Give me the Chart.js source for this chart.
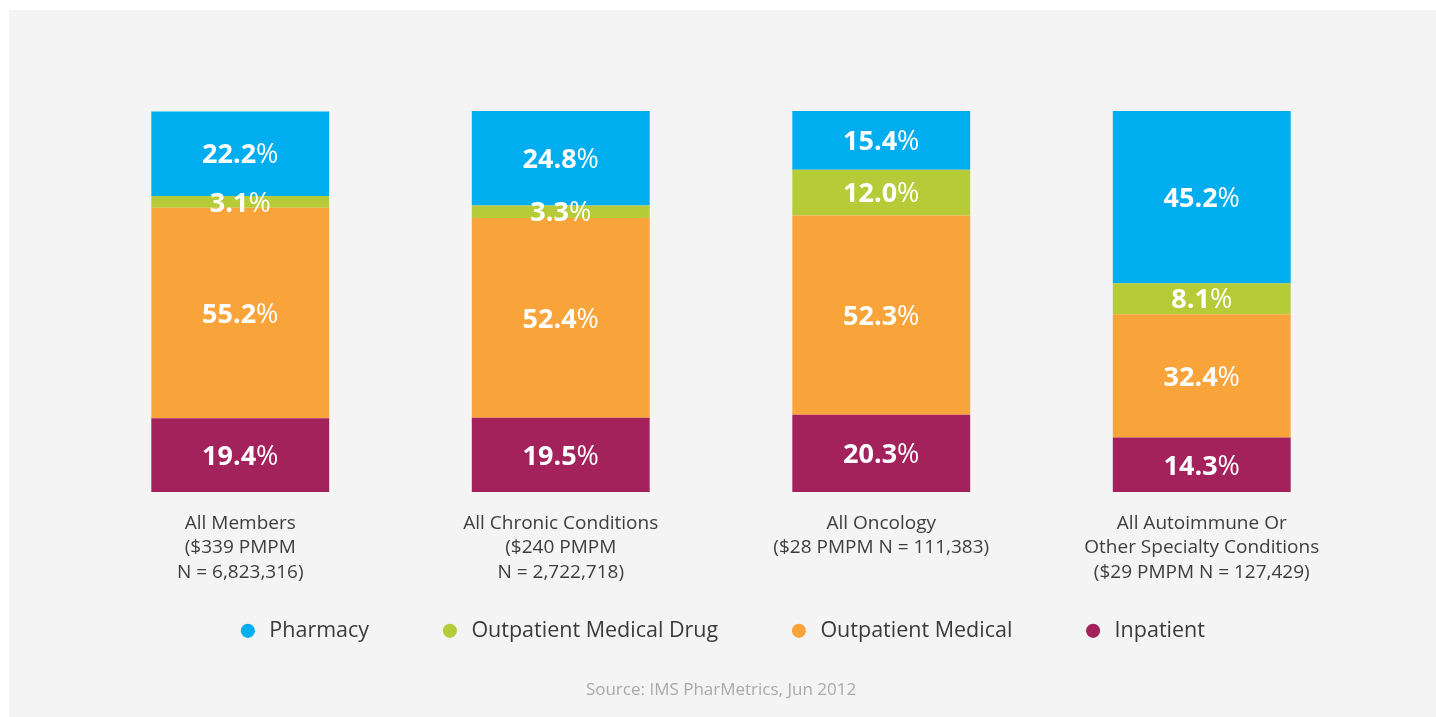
<!DOCTYPE html>
<html>
<head>
<meta charset="utf-8">
<script src="https://cdn.jsdelivr.net/npm/chart.js@4/dist/chart.umd.min.js"></script>
<style>
  html, body { margin: 0; padding: 0; background: #ffffff; }
  #wrap { position: absolute; left: 0; top: 0; width: 1436px; height: 717px; }
</style>
</head>
<body>
<div id="wrap"><canvas id="c" width="1436" height="717"></canvas></div>
<script>
const categories = [
  ["All Members", "($339 PMPM", "N = 6,823,316)"],
  ["All Chronic Conditions", "($240 PMPM", "N = 2,722,718)"],
  ["All Oncology", "($28 PMPM N = 111,383)"],
  ["All Autoimmune Or", "Other Specialty Conditions", "($29 PMPM N = 127,429)"]
];
const pharmacy = [22.2, 24.8, 15.4, 45.2];
const outpatientMedicalDrug = [3.1, 3.3, 12.0, 8.1];
const outpatientMedical = [55.2, 52.4, 52.3, 32.4];
const inpatient = [19.4, 19.5, 20.3, 14.3];
const seriesNames = ["Pharmacy", "Outpatient Medical Drug", "Outpatient Medical", "Inpatient"];
const sourceText = "Source: IMS PharMetrics, Jun 2012";

const FONT = "'Open Sans', 'Noto Sans', sans-serif";

const panelBg = {
  id: 'panelBg',
  beforeDraw(chart) {
    const ctx = chart.ctx;
    ctx.save();
    ctx.fillStyle = '#ffffff';
    ctx.fillRect(0, 0, chart.width, chart.height);
    ctx.fillStyle = '#f5f4f5';
    ctx.fillRect(9, 10, chart.width - 9, chart.height - 10);
    ctx.restore();
  }
};

// let the category labels run past the (deliberately short) axis box into the legend's empty top padding
const tickLabelRoom = {
  id: 'tickLabelRoom',
  afterLayout(chart) {
    const x = chart.scales.x;
    x.bottom = x.top + 110;
  }
};

const barLabels = {
  id: 'barLabels',
  afterDatasetsDraw(chart) {
    const ctx = chart.ctx;
    ctx.save();
    ctx.textBaseline = 'middle';
    chart.data.datasets.forEach((ds, di) => {
      const meta = chart.getDatasetMeta(di);
      meta.data.forEach((bar, i) => {
        const v = ds.data[i];
        const p = bar.getProps(['x', 'y', 'base'], true);
        const cy = (p.y + p.base) / 2 + 2;
        const num = v.toFixed(1);
        ctx.font = "bold 27px " + FONT;
        const w1 = ctx.measureText(num).width;
        ctx.font = "27px " + FONT;
        const w2 = ctx.measureText('%').width;
        const x0 = p.x - (w1 + w2) / 2;
        ctx.fillStyle = '#ffffff';
        ctx.textAlign = 'left';
        ctx.font = "bold 27px " + FONT;
        ctx.fillText(num, x0, cy);
        ctx.font = "27px " + FONT;
        ctx.fillText('%', x0 + w1, cy);
      });
    });
    ctx.restore();
  }
};

new Chart(document.getElementById('c'), {
  type: 'bar',
  data: {
    labels: categories,
    datasets: [
      { label: seriesNames[3], data: inpatient, backgroundColor: '#a3225c' },
      { label: seriesNames[2], data: outpatientMedical, backgroundColor: '#f9a33b' },
      { label: seriesNames[1], data: outpatientMedicalDrug, backgroundColor: '#b5cc38' },
      { label: seriesNames[0], data: pharmacy, backgroundColor: '#00aeef' }
    ]
  },
  options: {
    responsive: false,
    animation: false,
    devicePixelRatio: 1,
    layout: { padding: { left: 80, right: 74, top: 111, bottom: 4 } },
    datasets: { bar: { barPercentage: 1, categoryPercentage: 0.555, borderWidth: 0 } },
    scales: {
      x: {
        stacked: true,
        grid: { display: false, drawTicks: false },
        border: { display: false },
        afterFit(scale) { scale.height = 58; },
        ticks: {
          color: '#3d3d3d',
          padding: 19,
          maxRotation: 0,
          autoSkip: false,
          font: { family: FONT, size: 19, lineHeight: '24.5px' }
        }
      },
      y: {
        stacked: true,
        display: false,
        min: 0,
        max: 100
      }
    },
    plugins: {
      legend: {
        position: 'bottom',
        reverse: true,
        labels: {
          usePointStyle: true,
          pointStyle: 'circle',
          boxWidth: 24,
          boxHeight: 10,
          padding: 70,
          color: '#3a3a3a',
          font: { family: FONT, size: 21.5 }
        }
      },
      title: {
        display: true,
        position: 'bottom',
        text: sourceText,
        color: '#a9a9a9',
        font: { family: FONT, size: 17, weight: 'normal' },
        padding: { top: 28, bottom: 13 }
      },
      tooltip: { enabled: false }
    }
  },
  plugins: [panelBg, tickLabelRoom, barLabels]
});
</script>
</body>
</html>
